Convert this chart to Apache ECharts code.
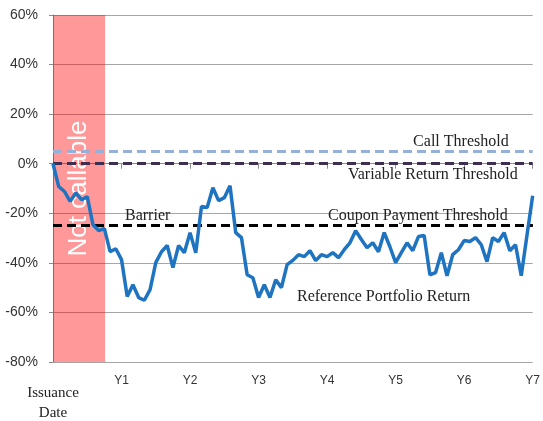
<!DOCTYPE html>
<html>
<head>
<meta charset="utf-8">
<script src="https://cdn.jsdelivr.net/npm/echarts@6/dist/echarts.min.js"></script>
<style>
  html, body { margin: 0; padding: 0; background: #fff; }
  #chart { width: 543px; height: 421px; }
</style>
</head>
<body>
<div id="chart"></div>
<script>
// 参考组合月度收益 (%), 从发行日开始，共 85 个点
const portfolioReturn = [
  0, -9.2, -11.2, -15.2, -11.8, -14.5, -13.3, -24.6, -27, -26.2,
  -35.5, -34.3, -38.7, -53.6, -48.8, -54, -55.1, -50.8, -39.9, -35.5,
  -33, -41.9, -33, -35.9, -27.8, -35.9, -17.3, -17.7, -9.7, -14.9,
  -13.7, -8.9, -27.8, -29.8, -44.8, -46, -54, -48.8, -54, -46.8,
  -50, -40.7, -39, -36.7, -37.5, -35.1, -39.1, -36.7, -37.5, -35.9,
  -37.9, -34.7, -31.9, -27, -30.6, -33.9, -31.9, -35.5, -27.8, -33.5,
  -39.9, -35.9, -31.9, -35.1, -29.4, -29, -44.8, -43.9, -35.9, -45.2,
  -36.7, -34.7, -31, -31.4, -29.8, -32.7, -39.5, -29.8, -31.4, -27.8,
  -35.1, -32.7, -45.2, -29, -12.9
];

// 阈值
const callThreshold = 5;
const variableReturnThreshold = 0;
const couponThreshold = -25;

// 不可赎回期（年）
const notCallablePeriod = [0, 0.76];

// 坐标轴
const yearTicks = ['Issuance\nDate', 'Y1', 'Y2', 'Y3', 'Y4', 'Y5', 'Y6', 'Y7'];
const yMin = -80, yMax = 60, yStep = 20;

const serif = '"Liberation Serif", "Times New Roman", serif';
const sans = '"Liberation Sans", Arial, sans-serif';

const chart = echarts.init(document.getElementById('chart'));

const lineData = portfolioReturn.map((v, i) => [i / 12, v]);

// 阈值线标签的公共样式
const lblStyle = { fontFamily: serif, fontSize: 16, color: '#222', distance: 2 };

const option = {
  animation: false,
  grid: { left: 53, right: 10, top: 15, bottom: 59 },
  xAxis: {
    type: 'value',
    min: 0,
    max: 7,
    interval: 1,
    axisLine: { lineStyle: { color: '#8c8c8c', width: 1 } },
    axisTick: { show: true, length: 5, lineStyle: { color: '#8c8c8c' } },
    splitLine: { show: false },
    axisLabel: {
      margin: 13,
      hideOverlap: false,
      showMinLabel: true,
      showMaxLabel: true,
      color: '#333',
      fontFamily: sans,
      fontSize: 12,
      formatter: (v) => {
        if (v === 0) return '{sp|}\n{iss|Issuance}\n{iss|Date}';
        return yearTicks[v];
      },
      rich: {
        sp: { lineHeight: 8, fontSize: 1 },
        iss: { fontFamily: serif, fontSize: 15, lineHeight: 20, color: '#222' }
      }
    }
  },
  yAxis: {
    type: 'value',
    min: yMin,
    max: yMax,
    interval: yStep,
    axisLine: { show: true, lineStyle: { color: '#8c8c8c', width: 1 } },
    axisTick: { show: true, length: 4, lineStyle: { color: '#8c8c8c' } },
    splitLine: { lineStyle: { color: '#a6a6a6', width: 1 } },
    axisLabel: {
      margin: 15,
      color: '#333',
      fontFamily: sans,
      fontSize: 14,
      formatter: '{value}%'
    }
  },
  graphic: [{
    type: 'text',
    left: 297,
    top: 289,
    style: {
      text: 'Reference Portfolio Return',
      font: '16px ' + serif,
      fill: '#222'
    }
  }],
  series: [
    {
      name: 'Reference Portfolio Return',
      type: 'line',
      data: lineData,
      symbol: 'none',
      z: 3,
      lineStyle: { color: '#1f74c1', width: 3.5 },
      markLine: {
        silent: true,
        symbol: 'none',
        z: 2,
        data: [
          {
            yAxis: callThreshold,
            lineStyle: { color: '#95b0d9', type: [9, 5], width: 3 },
            label: Object.assign({}, lblStyle, {
              formatter: 'Call Threshold', position: 'insideEndTop', padding: [0, 22, 0, 0]
            })
          },
          {
            yAxis: variableReturnThreshold,
            lineStyle: { color: '#3d2f52', type: [9, 5], width: 3 },
            label: Object.assign({}, lblStyle, {
              formatter: 'Variable Return Threshold', position: 'insideEndBottom',
              distance: 3, padding: [0, 12, 0, 0]
            })
          },
          {
            yAxis: couponThreshold,
            lineStyle: { color: '#000', type: [9, 5], width: 3 },
            label: Object.assign({}, lblStyle, {
              formatter: 'Coupon Payment Threshold', position: 'insideEndTop', padding: [0, 23, 0, 0]
            })
          },
          {
            yAxis: couponThreshold,
            lineStyle: { color: '#000', type: [9, 5], width: 3 },
            label: Object.assign({}, lblStyle, {
              formatter: 'Barrier', position: 'insideStartTop', padding: [0, 0, 0, 70]
            })
          }
        ]
      }
    },
    {
      // 不可赎回期的半透明红色区域，叠加在线上
      name: 'Not callable',
      type: 'line',
      data: [],
      z: 10,
      markArea: {
        silent: true,
        itemStyle: { color: 'rgba(255, 0, 0, 0.4)' },
        label: {
          show: true,
          position: 'inside',
          rotate: 90,
          formatter: 'Not callable',
          color: '#fff',
          fontFamily: sans,
          fontSize: 26
        },
        data: [[
          { xAxis: notCallablePeriod[0], yAxis: yMin },
          { xAxis: notCallablePeriod[1], yAxis: yMax }
        ]]
      }
    }
  ]
};

chart.setOption(option);
</script>
</body>
</html>
